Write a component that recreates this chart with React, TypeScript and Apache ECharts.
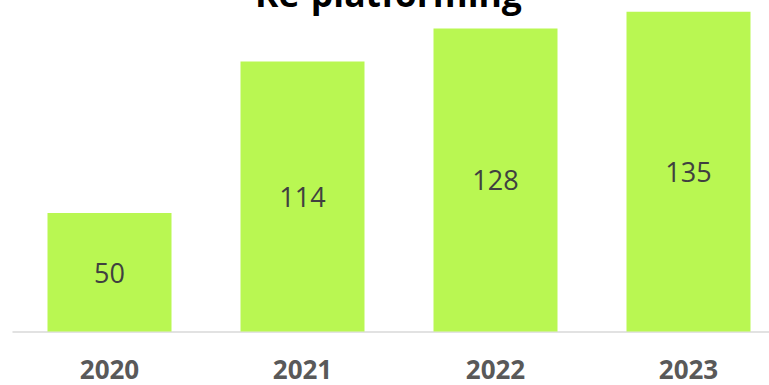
import React, { useEffect, useRef } from "react";
import * as echarts from "echarts";

const titleText = "Re-platforming";
const categories = ["2020", "2021", "2022", "2023"];
const values = [50, 114, 128, 135];

export default function App() {
  const ref = useRef<HTMLDivElement>(null);
  useEffect(() => {
    if (!ref.current) return;
    const chart = echarts.init(ref.current, null, { renderer: "svg" });
    chart.setOption({
      animation: false,
      backgroundColor: "#ffffff",
      title: {
        text: titleText,
        left: 250,
        top: -30,
        textStyle: {
          fontFamily: "Open Sans",
          fontWeight: "bold",
          fontSize: 35.5,
          color: "#000000",
        },
      },
      grid: {
        left: 13,
        right: -16,
        top: 0,
        bottom: 53.5,
        containLabel: false,
        outerBoundsMode: "none",
      },
      xAxis: {
        type: "category",
        data: categories,
        axisLine: { show: true, lineStyle: { color: "#d9d9d9", width: 1.5 } },
        axisTick: { show: false },
        axisLabel: {
          margin: 24,
          fontFamily: "Open Sans",
          fontWeight: "bold",
          fontSize: 26,
          color: "#595959",
        },
      },
      yAxis: {
        type: "value",
        min: 0,
        max: 140,
        show: false,
        splitLine: { show: false },
      },
      series: [
        {
          type: "bar",
          data: values,
          barWidth: 124,
          itemStyle: { color: "#b9f752" },
          label: {
            show: true,
            position: "inside",
            fontFamily: "Open Sans",
            fontSize: 27,
            color: "#404040",
          },
        },
      ],
    });
    return () => chart.dispose();
  }, []);
  return (
    <div
      ref={ref}
      style={{ position: "fixed", left: 0, top: 0, width: 769, height: 385 }}
    />
  );
}
